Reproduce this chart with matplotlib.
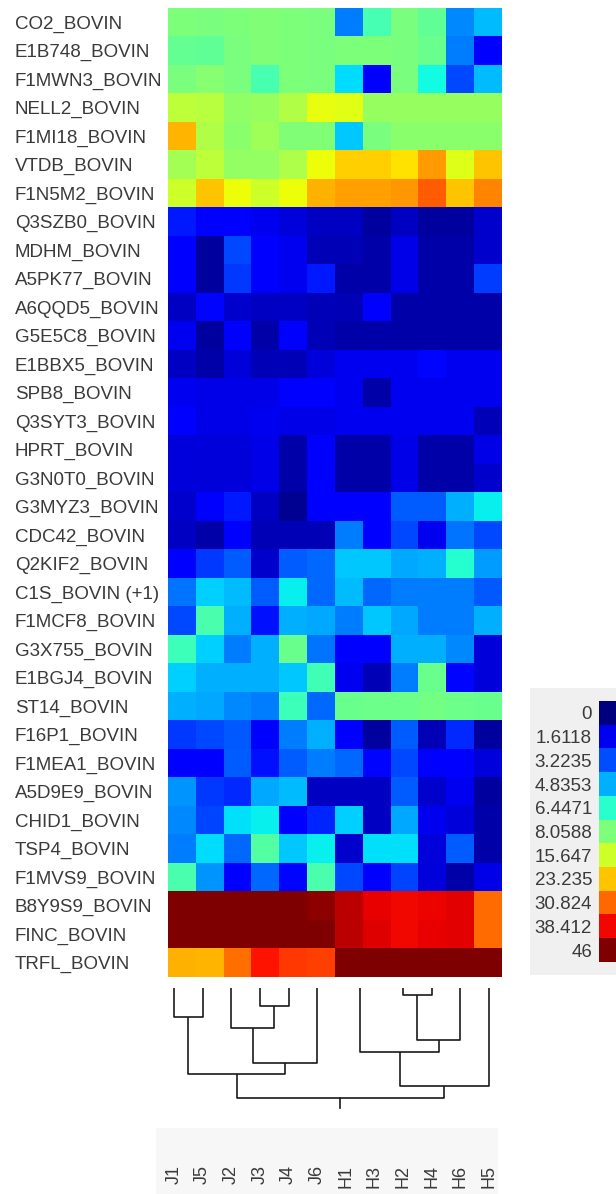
import numpy as np
import matplotlib
matplotlib.use('Agg')
from matplotlib import pyplot as plt
from matplotlib.colors import TwoSlopeNorm
from matplotlib.patches import Rectangle

plt.rcParams['font.family'] = ['Liberation Sans', 'DejaVu Sans']

# ---- data -------------------------------------------------------------
samples = ['J1', 'J5', 'J2', 'J3', 'J4', 'J6', 'H1', 'H3', 'H2', 'H4', 'H6', 'H5']

proteins = ['CO2_BOVIN', 'E1B748_BOVIN', 'F1MWN3_BOVIN', 'NELL2_BOVIN', 'F1MI18_BOVIN',
            'VTDB_BOVIN', 'F1N5M2_BOVIN', 'Q3SZB0_BOVIN', 'MDHM_BOVIN', 'A5PK77_BOVIN',
            'A6QQD5_BOVIN', 'G5E5C8_BOVIN', 'E1BBX5_BOVIN', 'SPB8_BOVIN', 'Q3SYT3_BOVIN',
            'HPRT_BOVIN', 'G3N0T0_BOVIN', 'G3MYZ3_BOVIN', 'CDC42_BOVIN', 'Q2KIF2_BOVIN',
            'C1S_BOVIN (+1)', 'F1MCF8_BOVIN', 'G3X755_BOVIN', 'E1BGJ4_BOVIN', 'ST14_BOVIN',
            'F16P1_BOVIN', 'F1MEA1_BOVIN', 'A5D9E9_BOVIN', 'CHID1_BOVIN', 'TSP4_BOVIN',
            'F1MVS9_BOVIN', 'B8Y9S9_BOVIN', 'FINC_BOVIN', 'TRFL_BOVIN']

values = [
    [8.2, 8.0, 8.3, 8.5, 8.3, 8.0, 4.0, 7.0, 8.0, 7.5, 4.2, 5.0],
    [7.6, 7.5, 8.0, 8.6, 8.2, 8.0, 8.3, 8.1, 8.0, 7.7, 4.0, 1.8],
    [8.0, 9.0, 8.0, 7.0, 8.2, 8.0, 5.5, 1.9, 8.0, 6.0, 3.2, 5.0],
    [14.0, 13.5, 10.0, 10.5, 13.0, 18.0, 17.5, 10.5, 10.5, 10.5, 10.5, 10.5],
    [24.5, 13.0, 9.5, 11.5, 8.5, 8.5, 5.2, 8.0, 9.5, 9.5, 9.5, 9.5],
    [11.8, 14.0, 10.3, 10.3, 12.6, 18.5, 22.5, 22.5, 21.0, 26.5, 17.0, 23.2],
    [15.6, 23.2, 18.7, 15.6, 18.7, 24.8, 26.3, 26.3, 27.0, 31.6, 23.2, 28.5],
    [2.4, 1.8, 1.9, 1.6, 1.3, 1.0, 1.0, 0.5, 1.0, 0.5, 0.5, 1.1],
    [1.8, 0.5, 3.2, 1.9, 1.6, 0.8, 0.8, 0.6, 1.5, 0.6, 0.6, 1.1],
    [1.9, 0.5, 2.9, 1.9, 1.6, 2.4, 0.6, 0.6, 1.5, 0.6, 0.6, 3.0],
    [1.0, 2.1, 1.1, 1.0, 1.0, 0.8, 0.8, 1.8, 0.6, 0.6, 0.6, 0.6],
    [1.6, 0.5, 1.9, 0.6, 1.9, 0.8, 0.6, 0.6, 0.6, 0.6, 0.6, 0.6],
    [1.0, 0.6, 1.3, 0.8, 0.8, 1.3, 1.6, 1.6, 1.6, 2.1, 1.6, 1.6],
    [1.6, 1.5, 1.5, 1.5, 1.8, 1.8, 1.6, 0.6, 1.6, 1.6, 1.6, 1.6],
    [1.9, 1.5, 1.5, 1.6, 1.5, 1.5, 1.6, 1.6, 1.6, 1.6, 1.6, 0.8],
    [1.3, 1.3, 1.3, 1.5, 0.6, 1.8, 0.6, 0.6, 1.5, 0.6, 0.6, 1.5],
    [1.3, 1.3, 1.3, 1.5, 0.6, 1.8, 0.6, 0.6, 1.5, 0.6, 0.6, 1.1],
    [1.1, 1.8, 2.4, 1.0, 0.3, 1.8, 1.8, 1.9, 3.5, 3.5, 4.8, 5.8],
    [1.0, 0.6, 1.9, 0.8, 0.8, 0.8, 4.0, 1.9, 3.2, 1.6, 3.9, 3.2],
    [1.8, 2.9, 3.5, 1.1, 3.5, 3.7, 5.2, 5.2, 4.7, 4.8, 6.4, 4.5],
    [3.9, 5.3, 5.0, 3.5, 5.8, 3.7, 5.0, 3.7, 4.0, 4.0, 4.0, 3.4],
    [3.2, 7.1, 4.8, 2.3, 4.8, 4.7, 4.0, 5.2, 4.7, 4.0, 4.0, 4.8],
    [6.8, 5.3, 4.0, 4.8, 7.7, 3.9, 1.8, 1.8, 4.8, 4.8, 4.2, 1.3],
    [5.3, 4.8, 4.8, 4.8, 5.2, 6.9, 1.6, 0.8, 4.0, 7.7, 2.1, 1.3],
    [4.8, 4.7, 4.2, 4.0, 6.8, 3.7, 7.7, 7.8, 7.8, 7.9, 7.8, 7.7],
    [2.9, 3.2, 3.4, 1.9, 4.0, 4.8, 1.8, 0.5, 3.5, 0.8, 2.7, 0.5],
    [1.9, 1.9, 3.5, 2.3, 3.5, 4.0, 3.7, 2.1, 3.2, 1.9, 1.9, 1.3],
    [4.4, 2.9, 2.7, 4.7, 5.0, 1.0, 1.0, 1.0, 3.5, 1.1, 1.6, 0.5],
    [4.2, 3.1, 5.6, 5.8, 1.9, 2.6, 5.3, 1.0, 4.7, 1.6, 1.3, 0.6],
    [4.0, 5.5, 3.7, 7.3, 5.2, 5.8, 1.1, 5.6, 5.6, 1.3, 3.5, 0.6],
    [7.1, 4.4, 1.8, 3.7, 2.1, 7.1, 3.2, 1.9, 3.1, 1.3, 0.6, 1.5],
    [46, 46, 46, 46, 46, 45, 42, 39, 38.4, 38.8, 39.2, 30.5],
    [46, 46, 46, 46, 46, 46, 42, 39.5, 38.4, 39, 39.2, 30.5],
    [24.8, 24.5, 30, 37.5, 34.6, 34, 46, 46, 46, 46, 46, 46],
]

cbar_ticks = [0, 1.6118, 3.2235, 4.8353, 6.4471, 8.0588, 15.647, 23.235, 30.824, 38.412, 46]
cbar_labels = ['0', '1.6118', '3.2235', '4.8353', '6.4471', '8.0588',
               '15.647', '23.235', '30.824', '38.412', '46']

# column dendrogram: (left, right, height); 'mN' refers to the N-th merge
merges = [('J1', 'J5', 32),
          ('J3', 'J4', 21),
          ('J2', 'm1', 43),
          ('m2', 'J6', 78),
          ('m0', 'm3', 89),
          ('H1', 'H3', 1),
          ('H2', 'H4', 10),
          ('m6', 'H6', 55),
          ('m5', 'm7', 67),
          ('m8', 'H5', 101),
          ('m4', 'm9', 113)]

# ---- layout -----------------------------------------------------------
W, H = 616, 1194
fig = plt.figure(figsize=(W / 100, H / 100), dpi=100)
fig.patch.set_facecolor('white')


def box(x0, y0, x1, y1):
    return [x0 / W, 1 - y1 / H, (x1 - x0) / W, (y1 - y0) / H]


txtcol = '#3a3a3a'
fs = 13.5
norm = TwoSlopeNorm(vmin=0, vcenter=8.0588, vmax=46)

# heatmap
ax = fig.add_axes(box(168, 8, 502, 977))
ax.imshow(np.array(values), cmap='jet', norm=norm, aspect='auto', interpolation='nearest')
for s in ax.spines.values():
    s.set_visible(False)
ax.set_xticks([])
ax.set_yticks(range(len(proteins)))
ax.set_yticklabels(proteins, fontsize=fs, color=txtcol)
for t in ax.get_yticklabels():
    t.set_ha('left')
ax.tick_params(axis='y', length=0, pad=153 * 0.72)

# colour key
fig.add_artist(Rectangle((530 / W, 1 - 975 / H), 1, (975 - 688) / H,
                         transform=fig.transFigure, facecolor='#f0f0f0',
                         edgecolor='none', zorder=-1))
cax = fig.add_axes(box(599, 701, 622, 962))
cax.imshow(np.array(cbar_ticks)[:, None], cmap='jet', norm=norm, aspect='auto',
           interpolation='nearest')
for s in cax.spines.values():
    s.set_visible(False)
cax.set_xticks([])
cax.set_yticks(range(len(cbar_ticks)))
cax.set_yticklabels(cbar_labels, fontsize=fs, color=txtcol)
cax.tick_params(axis='y', length=0, pad=5)

# faint panel behind sample labels
fig.add_artist(Rectangle((156 / W, 0), (498 - 156) / W, (1194 - 1128) / H,
                         transform=fig.transFigure, facecolor='#f7f7f7',
                         edgecolor='none', zorder=-1))

# dendrogram
dax = fig.add_axes(box(159.7, 988, 503.3, 1112))
dax.patch.set_visible(False)
pos = {name: (i, 0) for i, name in enumerate(samples)}
for k, (a, b, h) in enumerate(merges):
    xa, ha = pos[a]
    xb, hb = pos[b]
    dax.plot([xa, xa, xb, xb], [ha, h, h, hb], color='#1a1a1a', lw=1.2,
             solid_capstyle='butt')
    pos['m%d' % k] = ((xa + xb) / 2, h)
xr, hr = pos['m%d' % (len(merges) - 1)]
dax.plot([xr, xr], [hr, hr + 10], color='#1a1a1a', lw=1.2)
dax.set_xlim(-0.5, len(samples) - 0.5)
dax.set_ylim(127, 3)
for s in dax.spines.values():
    s.set_visible(False)
dax.set_yticks([])
dax.set_xticks(range(len(samples)))
dax.set_xticklabels(samples, rotation=90, fontsize=13, color=txtcol)
dax.tick_params(axis='x', length=0, pad=53 * 0.72)

fig.savefig('out.png', dpi=100, facecolor='white')
